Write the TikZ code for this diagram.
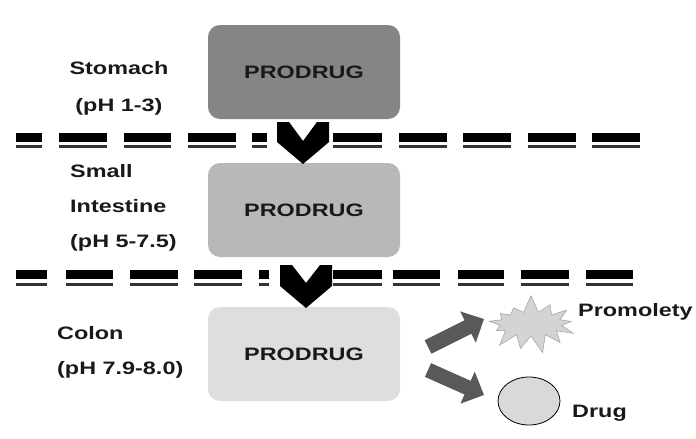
\documentclass[tikz,border=0pt]{standalone}
\usepackage{fontspec}
\newfontfamily\lblfont[FakeStretch=1.3]{Liberation Sans}
\usepackage{tikz}
\usetikzlibrary{shapes.symbols,shapes.geometric,arrows.meta}

\begin{document}
\begin{tikzpicture}[x=1pt, y=-1pt,
    lbl/.style={font=\lblfont\bfseries\fontsize{18}{35}\selectfont, text=black!90, inner sep=0pt},
    drugbox/.style={lbl, rounded corners=12pt, minimum width=192pt, minimum height=94pt, fill=#1},
    fatarrow/.style={draw=black!65, line width=15pt, -{Triangle[width=34pt,length=18pt]}},
    burst/.style={starburst, starburst points=13, starburst point height=18pt, random starburst=7,
      minimum width=98pt, minimum height=60pt, fill=black!17, draw=black!35, line width=0.6pt}]
        \useasboundingbox (0,0) rectangle (696,439);
        \node[drugbox=black!48] (pd1) at (304,72) {PRODRUG};
        \node[drugbox=black!28] (pd2) at (304,210) {PRODRUG};
        \node[drugbox=black!13] (pd3) at (304,354) {PRODRUG};
        \node[lbl, align=center] (stomach) at (119,88) {Stomach\\[2pt](pH 1-3)};
        \node[lbl, align=left, anchor=west] (small) at (70,208) {Small\\Intestine\\(pH 5-7.5)};
        \node[lbl, align=left, anchor=west] (colon) at (57,352) {Colon\\(pH 7.9-8.0)};
        \foreach \a/\b in {16/42, 59/107, 124/171, 188/236, 252/267, 333/382, 399/447, 463/511, 528/576, 592/640}{
          \fill (\a,133) rectangle (\b,142);
          \fill[black!80] (\a,145) rectangle (\b,148);};
        \foreach \a/\b in {16/47, 66/113, 130/178, 194/242, 259/269, 333/382, 393/440, 458/504, 521/569, 586/633}{
          \fill (\a,270) rectangle (\b,279);
          \fill[black!80] (\a,283) rectangle (\b,286);};
        \fill (277,122) -- (289,122) -- (303,141) -- (317,122) -- (329,122) -- (329,142) -- (303,164) -- (277,142) -- cycle;
        \fill (280,265) -- (292,265) -- (306,283) -- (320,265) -- (332,265) -- (332,286) -- (306,308) -- (280,286) -- cycle;
        \node[burst] (promo) at (531,324) {};
        \node[ellipse, draw, fill=black!15, line width=0.8pt, minimum width=62pt, minimum height=48pt] (drug) at (529,401) {};
        \node[lbl, anchor=west] (promolbl) at (578,312) {Promolety};
        \node[lbl, anchor=west] (druglbl) at (572,413) {Drug};
        \coordinate (up0) at (428,347);
        \coordinate (up1) at (484,319);
        \coordinate (dn0) at (428,370);
        \coordinate (dn1) at (484,395);
        \draw[fatarrow] (up0) -- (up1);
        \draw[fatarrow] (dn0) -- (dn1);
      \end{tikzpicture}
\end{document}
